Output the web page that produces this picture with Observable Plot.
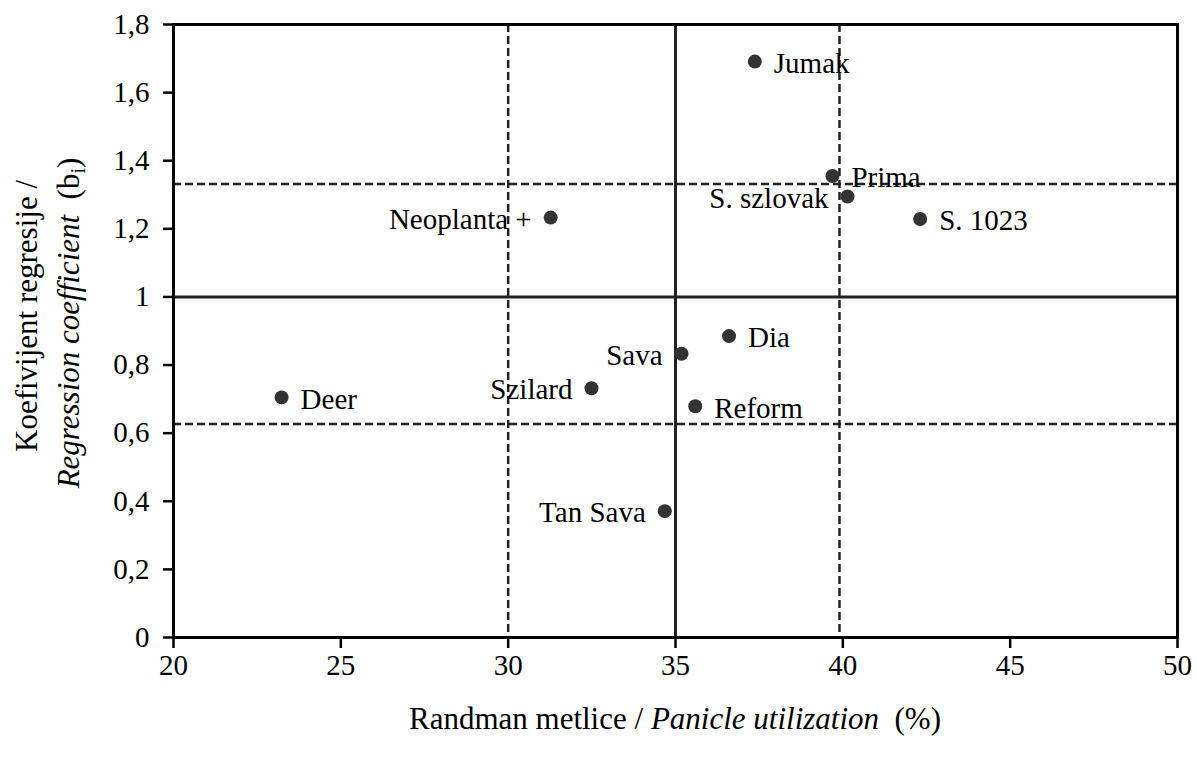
<!DOCTYPE html>
<html><head><meta charset="utf-8">
<script src="https://cdn.jsdelivr.net/npm/d3@7"></script>
<script src="https://cdn.jsdelivr.net/npm/@observablehq/plot@0.6"></script>
<style>body{margin:0;background:#fff}</style>
</head><body><div id="chart"></div>
<script>
// ---- data ----
const cultivars   = ["Jumak","Prima","S. szlovak","S. 1023","Neoplanta +","Dia","Sava","Szilard","Deer","Reform","Tan Sava"];
const panicleUtil = [37.37, 39.69, 40.14, 42.31, 31.27, 36.60, 35.18, 32.49, 23.23, 35.59, 34.68];
const regCoef     = [1.691, 1.355, 1.295, 1.229, 1.233, 0.885, 0.833, 0.732, 0.705, 0.679, 0.371];
const xTicks = [20, 25, 30, 35, 40, 45, 50];
const yTicks = [0, 0.2, 0.4, 0.6, 0.8, 1, 1.2, 1.4, 1.6, 1.8];
const solidX = [35];
const solidY = [1];
const dashedX = [30, 39.9];
const dashedY = [1.332, 0.627];

const data = cultivars.map((name, i) => ({name, x: panicleUtil[i], y: regCoef[i]}));
const leftLabelled = new Set(["S. szlovak", "Neoplanta +", "Sava", "Szilard", "Tan Sava"]);
const fmt = d => String(Math.round(d * 10) / 10).replace(".", ",");
const font = "'Liberation Serif','Times New Roman',serif";

const svg = Plot.plot({
  width: 1197, height: 760,
  marginLeft: 173, marginRight: 20, marginTop: 24, marginBottom: 123,
  style: {fontFamily: font, fontSize: "29px", color: "#000", background: "#fff"},
  x: {domain: [20, 50]},
  y: {domain: [0, 1.8]},
  marks: [
    Plot.ruleX(dashedX, {stroke: "#222", strokeWidth: 2.5, strokeDasharray: "8,4"}),
    Plot.ruleY(dashedY, {stroke: "#222", strokeWidth: 2.5, strokeDasharray: "8,4"}),
    Plot.ruleX(solidX, {stroke: "#222", strokeWidth: 3}),
    Plot.ruleY(solidY, {stroke: "#222", strokeWidth: 3}),
    Plot.dot(data, {x: "x", y: "y", r: 7, fill: "#333", stroke: "none"}),
    Plot.text(data.filter(d => !leftLabelled.has(d.name)), {x: "x", y: "y", text: "name", textAnchor: "start", dx: 19, dy: 2, fill: "#000", fontSize: 29}),
    Plot.text(data.filter(d => leftLabelled.has(d.name)), {x: "x", y: "y", text: "name", textAnchor: "end", dx: -19, dy: 2, fill: "#000", fontSize: 29}),
    Plot.frame({stroke: "#000", strokeWidth: 3}),
    Plot.axisX({ticks: xTicks, tickSize: 11, tickPadding: 6, strokeWidth: 2.5, label: null}),
    Plot.axisY({ticks: yTicks, tickSize: 10, tickPadding: 14, strokeWidth: 2.5, tickFormat: fmt, label: null})
  ]
});
document.getElementById("chart").appendChild(svg);

// axis titles with mixed italic
const s = d3.select(svg);
const xt = s.append("text")
  .attr("x", 675).attr("y", 729)
  .attr("text-anchor", "middle")
  .attr("font-family", font).attr("font-size", 31).attr("fill", "#000")
  .attr("xml:space", "preserve");
xt.append("tspan").text("Randman metlice / ");
xt.append("tspan").attr("font-style", "italic").text("Panicle utilization");
xt.append("tspan").text("  (%)");

const g = s.append("g").attr("font-family", font).attr("font-size", 31).attr("fill", "#000");
g.append("text")
  .attr("transform", "translate(37,316) rotate(-90)")
  .attr("text-anchor", "middle")
  .text("Koefivijent regresije /");
const t2 = g.append("text")
  .attr("transform", "translate(79,323) rotate(-90)")
  .attr("text-anchor", "middle")
  .attr("xml:space", "preserve");
t2.append("tspan").attr("font-style", "italic").text("Regression coefficient");
t2.append("tspan").text("  (b");
t2.append("tspan").attr("font-size", 20).attr("dy", 6).text("i");
t2.append("tspan").attr("dy", -6).text(")");
</script>
</body></html>
